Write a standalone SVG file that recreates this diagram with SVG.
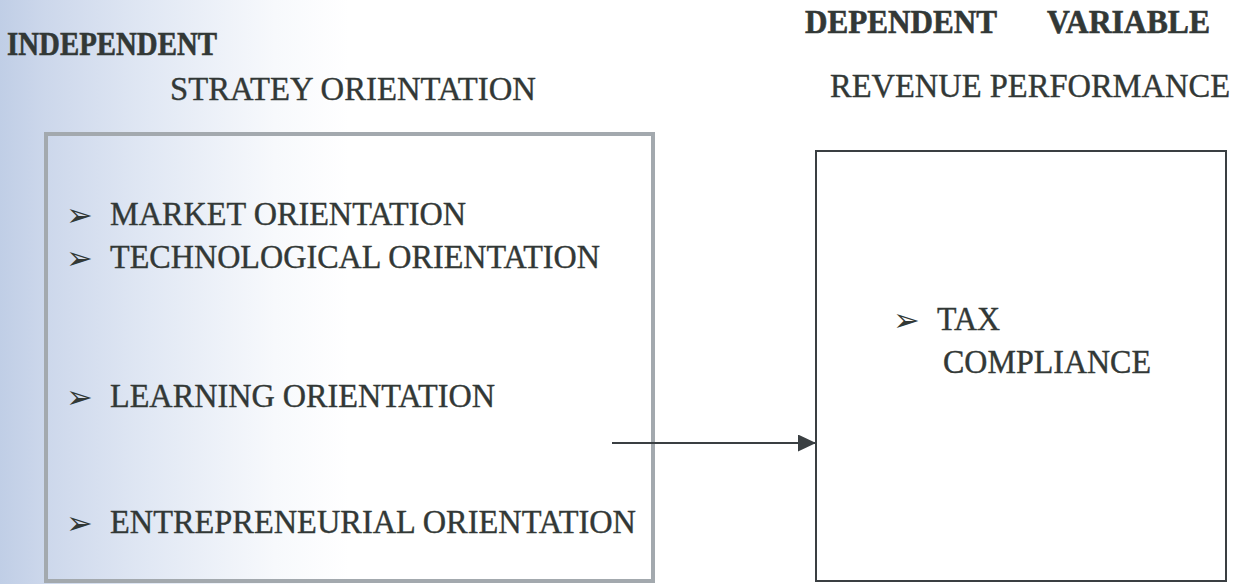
<svg xmlns="http://www.w3.org/2000/svg" width="1248" height="584" viewBox="0 0 1248 584">
  <defs>
    <linearGradient id="bg" x1="0" y1="0" x2="1" y2="0">
      <stop offset="0" stop-color="#c0cee6"/>
      <stop offset="0.035" stop-color="#ccd7eb"/>
      <stop offset="0.12" stop-color="#e1e8f4"/>
      <stop offset="0.22" stop-color="#f7f9fc"/>
      <stop offset="0.28" stop-color="#ffffff"/>
      <stop offset="1" stop-color="#ffffff"/>
    </linearGradient>
    <marker id="arrow" markerWidth="18" markerHeight="17" refX="18" refY="8.5" orient="auto" markerUnits="userSpaceOnUse">
      <path d="M0,0 L18,8.5 L0,17 Z" fill="#3a3f42"/>
    </marker>
    <style>
      .t { font-family: "Liberation Serif", "Times New Roman", serif; fill: #323836; stroke: #323836; stroke-width: 0.4; }
      .b { font-weight: bold; stroke-width: 0.6; }
      .r { font-size: 34px; }
      .bul { font-family: "DejaVu Sans", sans-serif; font-size: 32px; fill: #323836; }
      .lbox { fill: none; stroke: #a3a9ae; stroke-width: 4; }
      .rbox { fill: none; stroke: #3a3f42; stroke-width: 2; }
      .conn { stroke: #3a3f42; stroke-width: 2; fill: none; }
    </style>
  </defs>
  <rect x="0" y="0" width="1248" height="584" fill="url(#bg)"/>

  <g id="headings">
    <text class="t b" x="7" y="55" font-size="33" textLength="210" lengthAdjust="spacingAndGlyphs">INDEPENDENT</text>
    <text class="t r" x="170" y="100" textLength="366" lengthAdjust="spacingAndGlyphs">STRATEY ORIENTATION</text>
    <text class="t b" x="805" y="33" font-size="34" textLength="192" lengthAdjust="spacingAndGlyphs">DEPENDENT</text>
    <text class="t b" x="1047" y="33" font-size="34" textLength="163" lengthAdjust="spacingAndGlyphs">VARIABLE</text>
    <text class="t r" x="830" y="97" textLength="400" lengthAdjust="spacingAndGlyphs">REVENUE PERFORMANCE</text>
  </g>

  <g id="independent-box">
    <rect class="lbox" x="46" y="134" width="607" height="447"/>
    <text class="bul" x="66" y="226">➢</text>
    <text class="t r" x="110" y="225" textLength="356" lengthAdjust="spacingAndGlyphs">MARKET ORIENTATION</text>
    <text class="bul" x="66" y="269">➢</text>
    <text class="t r" x="110" y="268" textLength="490" lengthAdjust="spacingAndGlyphs">TECHNOLOGICAL ORIENTATION</text>
    <text class="bul" x="66" y="408">➢</text>
    <text class="t r" x="110" y="407" textLength="385" lengthAdjust="spacingAndGlyphs">LEARNING ORIENTATION</text>
    <text class="bul" x="66" y="534">➢</text>
    <text class="t r" x="110" y="533" textLength="526" lengthAdjust="spacingAndGlyphs">ENTREPRENEURIAL ORIENTATION</text>
  </g>

  <g id="dependent-box">
    <rect class="rbox" x="816" y="151" width="410" height="430"/>
    <text class="bul" x="893" y="331">➢</text>
    <text class="t r" x="937" y="330" textLength="63" lengthAdjust="spacingAndGlyphs">TAX</text>
    <text class="t r" x="943" y="373" textLength="208" lengthAdjust="spacingAndGlyphs">COMPLIANCE</text>
  </g>

  <g id="connectors">
    <line class="conn" x1="612" y1="443" x2="816" y2="443" marker-end="url(#arrow)"/>
  </g>
</svg>
